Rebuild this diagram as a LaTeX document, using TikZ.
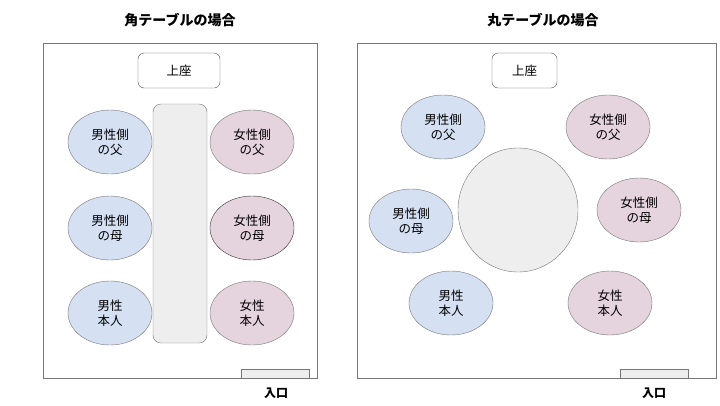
\documentclass[tikz,border=0pt]{standalone}
\usepackage{fontspec}
\setmainfont{Noto Sans CJK JP}
\usetikzlibrary{shapes.geometric}
\definecolor{manblue}{HTML}{D5E1F3}
\definecolor{womanpink}{HTML}{E5D3DE}
\definecolor{tablegray}{HTML}{EEEEEE}
\definecolor{linegray}{HTML}{777777}
\tikzset{
  room/.style={draw=linegray},
  seatbox/.style={draw=black!70, rounded corners=6pt, fill=white},
  guest/.style={ellipse, draw=linegray, minimum width=84pt, minimum height=64pt, align=center, font=\fontsize{12.5}{15}\selectfont, inner sep=0pt},
  man/.style={guest, fill=manblue},
  woman/.style={guest, fill=womanpink},
  title/.style={font=\bfseries\fontsize{14}{16}\selectfont},
  door/.style={draw=linegray, fill=tablegray},
  doorlabel/.style={font=\bfseries\fontsize{12}{14}\selectfont}
}
\begin{document}
\begin{tikzpicture}[x=1pt, y=-1pt]
		\useasboundingbox (0,0) rectangle (720,405);

		% Square table
		\node[title] (t1) at (180,20) {角テーブルの場合};
		\draw[room] (43,43) rectangle (317,378);
		\draw[seatbox] (138,53) rectangle (220,88);
		\node[font=\fontsize{12.5}{15}\selectfont] (top1) at (179,70.5) {上座};
		\draw[draw=linegray, fill=tablegray, rounded corners=8pt] (153,104) rectangle (207,343);
		\node[man] (mf1) at (110,142) {男性側\\の父};
		\node[man] (mm1) at (110,228) {男性側\\の母};
		\node[man] (ms1) at (110,313) {男性\\本人};
		\node[woman] (wf1) at (252,142) {女性側\\の父};
		\node[woman, draw=black!80] (wm1) at (252,228) {女性側\\の母};
		\node[woman] (ws1) at (252,313) {女性\\本人};
		\draw[door] (241,369) rectangle (309,378);
		\node[doorlabel] (d1) at (276,393) {入口};

		% Round table
		\node[title] (t2) at (543,20) {丸テーブルの場合};
		\draw[room] (357,43) rectangle (716,378);
		\draw[seatbox] (492,53) rectangle (557,88);
		\node[font=\fontsize{12.5}{15}\selectfont] (top2) at (524.5,70.5) {上座};
		\draw[draw=linegray, fill=tablegray] (518,210) ellipse (60 and 62);
		\node[man] (mf2) at (443,127) {男性側\\の父};
		\node[man] (mm2) at (411,221) {男性側\\の母};
		\node[man] (ms2) at (451,303) {男性\\本人};
		\node[woman] (wf2) at (608,127) {女性側\\の父};
		\node[woman] (wm2) at (639,210) {女性側\\の母};
		\node[woman] (ws2) at (610,303) {女性\\本人};
		\draw[door] (620,369) rectangle (688,378);
		\node[doorlabel] (d2) at (654,393) {入口};
\end{tikzpicture}
\end{document}
